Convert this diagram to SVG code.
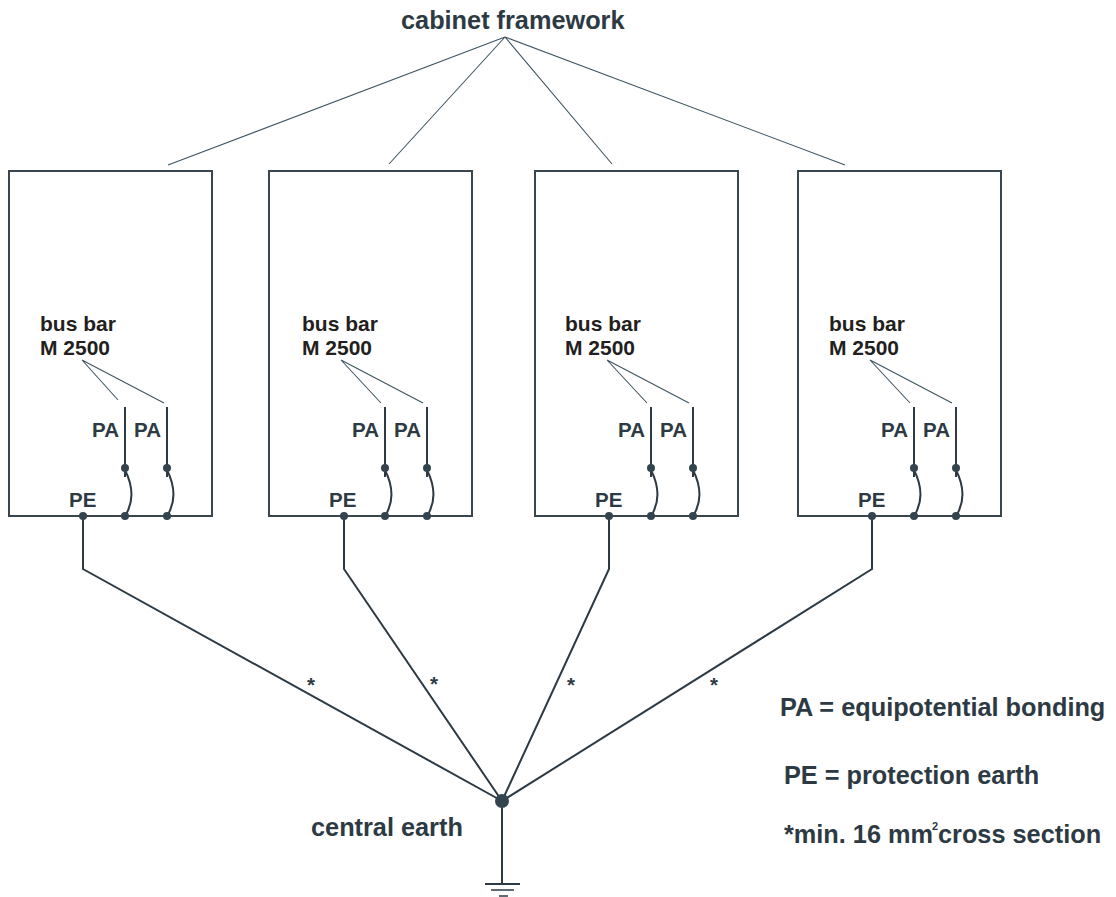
<svg xmlns="http://www.w3.org/2000/svg" width="1116" height="897" viewBox="0 0 1116 897">
<style>
text{font-family:"Liberation Sans",Arial,sans-serif;font-weight:700;fill:#2d3a43}
.big{font-size:25.3px}
.bus{font-size:21px;fill:#231f20}
.pa{font-size:20.5px}
.leg{font-size:25.3px}
.box{fill:#fff;stroke:#3a464e;stroke-width:2}
.thin{fill:none;stroke:#3f5460;stroke-width:1.1}
.w{fill:none;stroke:#2d3a43;stroke-width:2}
.d{fill:#34444e;stroke:none}
</style>
<rect width="1116" height="897" fill="#fff"/>
<g id="connectors">
<path class="thin" d="M505 37L168 165M505 37L389 164M505 37L612 164M505 37L845 165"/>
<path class="w" d="M83 516V569L502 801M344 516V569L502 801M609 516V569L502 801M872 516V569L502 801M502 801V884"/>
</g>
<g id="cabinet-1">
<rect class="box" x="9" y="171" width="203" height="345"/>
<text class="bus" x="40" y="331">bus bar</text><text class="bus" x="40" y="355">M 2500</text>
<path class="thin" d="M82 360L118 400M82 360L164 403"/>
<text class="pa" x="92" y="437">PA</text><text class="pa" x="134" y="437">PA</text>
<path class="w" d="M125 407V477M167 407V477M125 470C133 486 134 502 125 516M167 470C175 486 176 502 167 516"/>
<circle class="d" cx="125" cy="468" r="4"/><circle class="d" cx="167" cy="468" r="4"/><circle class="d" cx="125" cy="516" r="4"/><circle class="d" cx="167" cy="516" r="4"/><circle class="d" cx="83" cy="516" r="4"/>
<text class="pa" x="69" y="507">PE</text>
</g>
<g id="cabinet-2">
<rect class="box" x="269" y="171" width="203" height="345"/>
<text class="bus" x="302" y="331">bus bar</text><text class="bus" x="302" y="355">M 2500</text>
<path class="thin" d="M341 360L381 403M341 360L423 403"/>
<text class="pa" x="352" y="437">PA</text><text class="pa" x="394" y="437">PA</text>
<path class="w" d="M385 407V477M427 407V477M385 470C393 486 394 502 385 516M427 470C435 486 436 502 427 516"/>
<circle class="d" cx="385" cy="468" r="4"/><circle class="d" cx="427" cy="468" r="4"/><circle class="d" cx="385" cy="516" r="4"/><circle class="d" cx="427" cy="516" r="4"/><circle class="d" cx="344" cy="516" r="4"/>
<text class="pa" x="329" y="507">PE</text>
</g>
<g id="cabinet-3">
<rect class="box" x="535" y="171" width="203" height="345"/>
<text class="bus" x="565" y="331">bus bar</text><text class="bus" x="565" y="355">M 2500</text>
<path class="thin" d="M607 360L647 403M607 360L689 403"/>
<text class="pa" x="618" y="437">PA</text><text class="pa" x="660" y="437">PA</text>
<path class="w" d="M651 407V477M693 407V477M651 470C659 486 660 502 651 516M693 470C701 486 702 502 693 516"/>
<circle class="d" cx="651" cy="468" r="4"/><circle class="d" cx="693" cy="468" r="4"/><circle class="d" cx="651" cy="516" r="4"/><circle class="d" cx="693" cy="516" r="4"/><circle class="d" cx="609" cy="516" r="4"/>
<text class="pa" x="595" y="507">PE</text>
</g>
<g id="cabinet-4">
<rect class="box" x="798" y="171" width="203" height="345"/>
<text class="bus" x="829" y="331">bus bar</text><text class="bus" x="829" y="355">M 2500</text>
<path class="thin" d="M870 360L910 403M870 360L952 403"/>
<text class="pa" x="881" y="437">PA</text><text class="pa" x="923" y="437">PA</text>
<path class="w" d="M914 407V477M956 407V477M914 470C922 486 923 502 914 516M956 470C964 486 965 502 956 516"/>
<circle class="d" cx="914" cy="468" r="4"/><circle class="d" cx="956" cy="468" r="4"/><circle class="d" cx="914" cy="516" r="4"/><circle class="d" cx="956" cy="516" r="4"/><circle class="d" cx="872" cy="516" r="4"/>
<text class="pa" x="858" y="507">PE</text>
</g>
<g id="central-earth">
<circle class="d" cx="502" cy="801" r="7"/>
<path class="w" d="M485 884H520"/>
<path class="w" d="M491 890H514M499 896H508" style="stroke-width:1.6"/>
<text class="big" x="311" y="836">central earth</text>
</g>
<g id="title"><text class="big" x="401" y="29">cabinet framework</text></g>
<g id="stars">
<text class="pa" x="307" y="692">*</text><text class="pa" x="430" y="691">*</text><text class="pa" x="567" y="692">*</text><text class="pa" x="710" y="692">*</text>
</g>
<g id="legend">
<text class="leg" x="780" y="716">PA = equipotential bonding</text>
<text class="leg" x="784" y="784">PE = protection earth</text>
<text class="leg" x="784" y="843">*min. 16 mm</text>
<text x="932" y="830" font-size="11">2</text>
<text class="leg" x="938" y="843">cross section</text>
</g>
</svg>
